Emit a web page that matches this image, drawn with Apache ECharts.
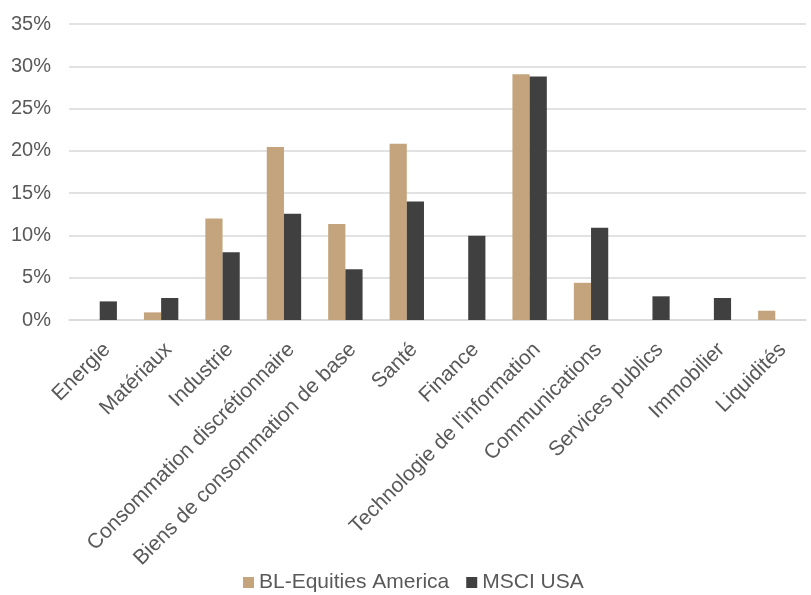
<!DOCTYPE html>
<html>
<head>
<meta charset="utf-8">
<script src="https://cdn.jsdelivr.net/npm/echarts@6/dist/echarts.min.js"></script>
<style>
    html, body { margin: 0; padding: 0; background: #fff; }
    #chart { width: 811px; height: 595px; }
</style>
</head>
<body>
<div id="chart"></div>
<script>
    var categories = ['Energie', 'Matériaux', 'Industrie', 'Consommation discrétionnaire',
        'Biens de consommation de base', 'Santé', 'Finance', "Technologie de l'information",
        'Communications', 'Services publics', 'Immobilier', 'Liquidités']
    var blEquities = [0, 0.9, 12.0, 20.45, 11.35, 20.85, 0, 29.05, 4.4, 0, 0, 1.1]
    var msciUsa = [2.2, 2.6, 8.0, 12.55, 6.0, 14.0, 9.95, 28.8, 10.9, 2.8, 2.6, 0]

    var textColor = '#595959'
    var font = 'Liberation Sans, Arial, sans-serif'

    var myChart = echarts.init(document.getElementById('chart'))
    var option = {
        animation: false,
        textStyle: { fontFamily: font },
        grid: {
            left: 69,
            right: 5,
            top: 24,
            bottom: 275,
            containLabel: false
        },
        legend: {
            top: 567,
            left: 238,
            itemWidth: 11,
            itemHeight: 11,
            itemGap: 17,
            icon: 'rect',
            textStyle: { color: textColor, fontSize: 21, fontFamily: font },
            data: ['BL-Equities America', 'MSCI USA']
        },
        xAxis: {
            type: 'category',
            data: categories,
            axisTick: { show: false },
            axisLine: { show: true, lineStyle: { color: '#d9d9d9', width: 1.5 } },
            axisLabel: {
                rotate: 45,
                interval: 0,
                color: textColor,
                fontSize: 21,
                verticalAlign: 'top',
                margin: 19
            }
        },
        yAxis: {
            type: 'value',
            min: 0,
            max: 35,
            interval: 5,
            axisLine: { show: false },
            axisTick: { show: false },
            splitLine: { lineStyle: { color: '#d9d9d9', width: 1.5 } },
            axisLabel: {
                color: textColor,
                fontSize: 20,
                margin: 18,
                formatter: '{value}%'
            }
        },
        series: [{
            name: 'BL-Equities America',
            type: 'bar',
            data: blEquities,
            barGap: '0%',
            barCategoryGap: '44%',
            itemStyle: { color: '#c4a47c' }
        }, {
            name: 'MSCI USA',
            type: 'bar',
            data: msciUsa,
            itemStyle: { color: '#404040' }
        }]
    }
    myChart.setOption(option)
</script>
</body>
</html>
